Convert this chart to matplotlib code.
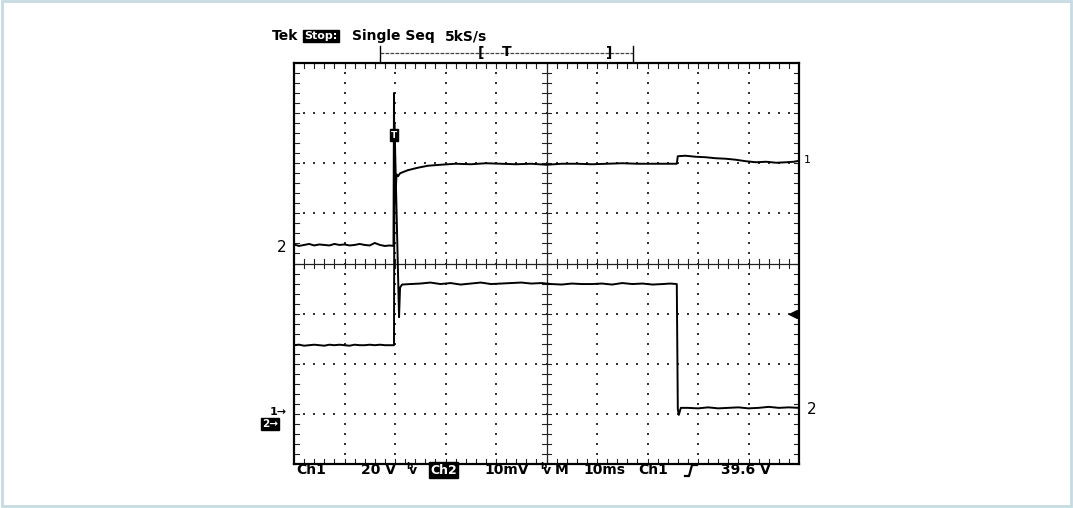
import matplotlib
matplotlib.use("Agg")
import matplotlib.pyplot as plt
from matplotlib.lines import Line2D
from matplotlib.patches import Rectangle

W, H = 1073, 508

# ---------------- data (screen divisions: x 0..10, y -4..4) ----------------
trace1_t = [0.00, 0.10, 0.20, 0.30, 0.40, 0.50, 0.60, 0.70, 0.80, 0.90, 1.00,
            1.10, 1.20, 1.30, 1.40, 1.50, 1.60, 1.70, 1.80, 1.90, 1.97,
            1.98, 1.99, 2.00, 2.01, 2.03, 2.06,
            2.10, 2.25, 2.45, 2.65, 2.90, 3.20, 3.50, 3.80, 4.10, 4.40, 4.70,
            5.00, 5.30, 5.60, 5.90, 6.20, 6.50, 6.80, 7.10, 7.40, 7.58,
            7.60, 7.75, 7.95, 8.15, 8.35, 8.55, 8.75, 8.95, 9.15, 9.35, 9.55,
            9.75, 9.90, 10.00]
trace1_v = [0.38, 0.35, 0.37, 0.39, 0.36, 0.38, 0.37, 0.36, 0.39, 0.37, 0.38,
            0.36, 0.37, 0.39, 0.37, 0.36, 0.41, 0.37, 0.35, 0.36, 0.35,
            3.40, 1.25, 1.70, 1.35, 1.78, 1.74,
            1.80, 1.86, 1.91, 1.95, 1.97, 1.99, 1.98, 2.00, 1.99, 1.98, 1.99,
            1.97, 1.99, 1.99, 1.98, 1.99, 2.00, 1.99, 1.99, 1.99, 1.99,
            2.14, 2.15, 2.13, 2.12, 2.10, 2.09, 2.07, 2.04, 2.02, 2.03, 2.01,
            2.02, 2.03, 2.05]

trace2_t = [0.00, 0.10, 0.20, 0.30, 0.40, 0.50, 0.60, 0.70, 0.80, 0.90, 1.00,
            1.10, 1.20, 1.30, 1.40, 1.50, 1.60, 1.70, 1.80, 1.90, 1.98,
            1.99, 2.08, 2.10, 2.14,
            2.30, 2.50, 2.70, 2.90, 3.10, 3.30, 3.50, 3.70, 3.90, 4.10, 4.30,
            4.50, 4.70, 4.90, 5.10, 5.30, 5.50, 5.70, 5.90, 6.10, 6.30, 6.50,
            6.70, 6.90, 7.10, 7.30, 7.45, 7.58,
            7.60, 7.62, 7.66, 7.80, 8.00, 8.20, 8.40, 8.60, 8.80, 9.00, 9.20,
            9.40, 9.60, 9.80, 10.00]
trace2_v = [-1.63, -1.62, -1.64, -1.63, -1.62, -1.63, -1.64, -1.62, -1.63, -1.62, -1.63,
            -1.64, -1.62, -1.63, -1.63, -1.62, -1.63, -1.62, -1.63, -1.63, -1.63,
            2.80, -1.07, -0.48, -0.42,
            -0.41, -0.40, -0.38, -0.41, -0.39, -0.42, -0.40, -0.38, -0.41, -0.40, -0.39,
            -0.38, -0.40, -0.39, -0.41, -0.42, -0.40, -0.41, -0.41, -0.40, -0.42, -0.39,
            -0.41, -0.40, -0.42, -0.41, -0.40, -0.41,
            -2.90, -3.02, -2.88, -2.88, -2.89, -2.87, -2.89, -2.88, -2.87, -2.89, -2.88,
            -2.86, -2.88, -2.87, -2.88]

header_texts = ["Tek", "Stop:", "Single Seq", "5kS/s"]
footer_texts = ["Ch1", "20 V", "Ch2", "10mV", "M", "10ms", "Ch1", "39.6 V"]
bw_symbol = r"$^{\mathbf{b}}\!\!\mathbf{v}$"

# ---------------- figure ----------------
fig = plt.figure(figsize=(W / 100, H / 100), dpi=100)
fig.patch.set_facecolor("white")


def fx(x):
    return x / W


def fy(y):
    return 1 - y / H


# light blue outer frame
fig.add_artist(Rectangle((fx(2), fy(506)), (1071 - 2) / W, (506 - 1) / H,
                         transform=fig.transFigure, fill=False,
                         edgecolor="#c6dbe2", lw=2.0))

left, right, top, bottom = 294, 799, 63, 464
ax = fig.add_axes([fx(left), fy(bottom), (right - left) / W, (bottom - top) / H])
ax.set_xlim(0, 10)
ax.set_ylim(-4, 4)
ax.set_xticks([])
ax.set_yticks([])
for s in ax.spines.values():
    s.set_linewidth(1.6)
    s.set_color("black")

# dotted graticule
dot_x, dot_y = [], []
for gx in range(1, 10):
    if gx == 5:
        continue
    for k in range(1, 40):
        dot_x.append(gx)
        dot_y.append(-4 + k * 0.2)
for gy in range(-3, 4):
    if gy == 0:
        continue
    for k in range(1, 50):
        dot_x.append(k * 0.2)
        dot_y.append(gy)
ax.scatter(dot_x, dot_y, s=2.2, color="#333333", marker="s", lw=0, zorder=1)

# centre crosshair with minor ticks
ax.axhline(0, color="#222222", lw=0.9, zorder=1)
ax.axvline(5, color="#222222", lw=0.9, zorder=1)
for k in range(1, 50):
    x = k * 0.2
    ax.plot([x, x], [-0.09, 0.09], color="#222222", lw=0.8, zorder=1)
    ax.plot([x, x], [-4, -3.9], color="#222222", lw=0.8, zorder=1)
    ax.plot([x, x], [4, 3.9], color="#222222", lw=0.8, zorder=1)
for k in range(1, 40):
    y = -4 + k * 0.2
    ax.plot([4.91, 5.09], [y, y], color="#222222", lw=0.8, zorder=1)
    ax.plot([0, 0.09], [y, y], color="#222222", lw=0.8, zorder=1)
    ax.plot([10, 9.91], [y, y], color="#222222", lw=0.8, zorder=1)

# traces
ax.plot(trace1_t, trace1_v, color="black", lw=1.4, zorder=3)
ax.plot(trace2_t, trace2_v, color="black", lw=1.4, zorder=3)

# trigger level arrow on right
ax.plot([9.88], [-1.01], marker="<", color="black", markersize=6, zorder=4)
ax.plot([9.88, 9.97], [-1.01, -1.01], color="black", lw=1.5, zorder=4)

# trigger "T" box
ax.text(1.98, 2.56, "T", color="white", fontsize=6.5, fontweight="bold",
        ha="center", va="center", zorder=5,
        bbox=dict(boxstyle="square,pad=0.15", fc="black", ec="black"))

bold = dict(fontsize=10, fontweight="bold", family="DejaVu Sans", color="black")

# header
fig.text(fx(272), fy(36), header_texts[0], ha="left", va="center", **bold)
fig.text(fx(304), fy(36), header_texts[1], ha="left", va="center", fontsize=8,
         fontweight="bold", color="white",
         bbox=dict(boxstyle="square,pad=0.12", fc="black", ec="black"))
fig.text(fx(352), fy(36), header_texts[2], ha="left", va="center", **bold)
fig.text(fx(445), fy(36), header_texts[3], ha="left", va="center", **bold)

# record bar
fig.add_artist(Line2D([fx(380), fx(633)], [fy(53), fy(53)], transform=fig.transFigure,
                      color="#444444", lw=0.9, linestyle=(0, (3, 1))))
for xx in (380, 633):
    fig.add_artist(Line2D([fx(xx), fx(xx)], [fy(46), fy(61)], transform=fig.transFigure,
                          color="black", lw=1.0))
fig.text(fx(481), fy(53), "[", ha="center", va="center", **bold)
fig.text(fx(507), fy(52), "T", ha="center", va="center", **bold)
fig.text(fx(609), fy(53), "]", ha="center", va="center", **bold)

# footer
fy_f = fy(470)
fig.text(fx(296), fy_f, footer_texts[0], ha="left", va="center", **bold)
fig.text(fx(396), fy_f, footer_texts[1], ha="right", va="center", **bold)
fig.text(fx(406), fy_f, bw_symbol, ha="left", va="center", fontsize=9)
fig.text(fx(430), fy_f, footer_texts[2], ha="left", va="center", fontsize=9,
         fontweight="bold", color="white",
         bbox=dict(boxstyle="square,pad=0.1", fc="black", ec="black"))
fig.text(fx(529), fy_f, footer_texts[3], ha="right", va="center", **bold)
fig.text(fx(540), fy_f, bw_symbol, ha="left", va="center", fontsize=9)
fig.text(fx(555), fy_f, footer_texts[4], ha="left", va="center", **bold)
fig.text(fx(583), fy_f, footer_texts[5], ha="left", va="center", **bold)
fig.text(fx(638), fy_f, footer_texts[6], ha="left", va="center", **bold)
fig.add_artist(Line2D([fx(685), fx(689), fx(692), fx(697)],
                      [fy(476), fy(476), fy(465), fy(465)],
                      transform=fig.transFigure, color="black", lw=1.6))
fig.text(fx(771), fy_f, footer_texts[7], ha="right", va="center", **bold)

# ground reference markers on left
fig.text(fx(270), fy(412), "1\u2192", ha="left", va="center", fontsize=8,
         fontweight="bold")
fig.text(fx(262), fy(424), "2\u2192", ha="left", va="center", fontsize=7.5,
         fontweight="bold", color="white",
         bbox=dict(boxstyle="square,pad=0.1", fc="black", ec="black"))

# hand-written trace labels
hand = dict(fontsize=11, family="DejaVu Sans", color="black")
fig.text(fx(282), fy(247), "2", ha="center", va="center", **hand)
fig.text(fx(807), fy(160), "1", ha="center", va="center", fontsize=8)
fig.text(fx(812), fy(409), "2", ha="center", va="center", **hand)

fig.savefig("out.png", dpi=100)
